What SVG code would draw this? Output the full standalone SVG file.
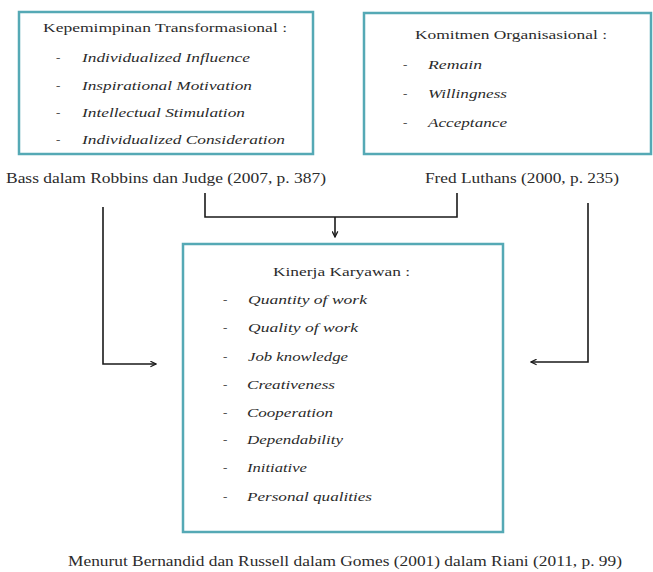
<svg xmlns="http://www.w3.org/2000/svg" width="653" height="572" viewBox="0 0 653 572">
<style>
  .box { fill: #ffffff; stroke: #55a9b5; stroke-width: 2.5; }
  text { font-family: "Liberation Serif", "DejaVu Serif", "Times New Roman", serif; fill: #2b2b2b; }
  .title { font-size: 13px; }
  .item { font-size: 13px; font-style: italic; }
  .dash { font-size: 13px; fill: #555; }
  .cap { font-size: 14px; }
  .conn { fill: none; stroke: #1a1a1a; stroke-width: 1.6; }
</style>
<defs>
  <marker id="arr" viewBox="0 0 10 10" refX="9" refY="5" markerWidth="7" markerHeight="7" orient="auto" markerUnits="userSpaceOnUse">
    <path d="M1,1 L9,5 L1,9" fill="none" stroke="#1a1a1a" stroke-width="1.8"/>
  </marker>
</defs>
<rect width="653" height="572" fill="#ffffff"/>

<g id="node-transformasional" font-family="Liberation Serif, DejaVu Serif, serif">
  <rect class="box" x="19" y="12" width="294" height="142"/>
  <text class="title" x="43" y="32" textLength="244" lengthAdjust="spacingAndGlyphs">Kepemimpinan Transformasional :</text>
  <text class="dash" x="56" y="62">-</text>
  <text class="item" x="82" y="62" textLength="168" lengthAdjust="spacingAndGlyphs">Individualized Influence</text>
  <text class="dash" x="56" y="90">-</text>
  <text class="item" x="82" y="90" textLength="170" lengthAdjust="spacingAndGlyphs">Inspirational Motivation</text>
  <text class="dash" x="56" y="117">-</text>
  <text class="item" x="82" y="117" textLength="163" lengthAdjust="spacingAndGlyphs">Intellectual Stimulation</text>
  <text class="dash" x="56" y="144">-</text>
  <text class="item" x="82" y="144" textLength="203" lengthAdjust="spacingAndGlyphs">Individualized Consideration</text>
</g>

<g id="node-komitmen" font-family="Liberation Serif, DejaVu Serif, serif">
  <rect class="box" x="364" y="13" width="287" height="141"/>
  <text class="title" x="415" y="39" textLength="192" lengthAdjust="spacingAndGlyphs">Komitmen Organisasional :</text>
  <text class="dash" x="403" y="69">-</text>
  <text class="item" x="428" y="69" textLength="54" lengthAdjust="spacingAndGlyphs">Remain</text>
  <text class="dash" x="403" y="98">-</text>
  <text class="item" x="428" y="98" textLength="79" lengthAdjust="spacingAndGlyphs">Willingness</text>
  <text class="dash" x="403" y="127">-</text>
  <text class="item" x="428" y="127" textLength="79" lengthAdjust="spacingAndGlyphs">Acceptance</text>
</g>

<g id="caption-bass">
  <text class="cap" x="6" y="183" textLength="320" lengthAdjust="spacingAndGlyphs">Bass dalam Robbins dan Judge (2007, p. 387)</text>
</g>
<g id="caption-luthans">
  <text class="cap" x="425" y="183" textLength="194" lengthAdjust="spacingAndGlyphs">Fred Luthans (2000, p. 235)</text>
</g>

<g id="node-kinerja">
  <rect class="box" x="183" y="244" width="320" height="288"/>
  <text class="title" x="273" y="276" textLength="137" lengthAdjust="spacingAndGlyphs">Kinerja Karyawan :</text>
  <text class="dash" x="223" y="304">-</text>
  <text class="item" x="248" y="304" textLength="119" lengthAdjust="spacingAndGlyphs">Quantity of work</text>
  <text class="dash" x="223" y="332">-</text>
  <text class="item" x="248" y="332" textLength="110" lengthAdjust="spacingAndGlyphs">Quality of work</text>
  <text class="dash" x="223" y="361">-</text>
  <text class="item" x="248" y="361" textLength="100" lengthAdjust="spacingAndGlyphs">Job knowledge</text>
  <text class="dash" x="223" y="389">-</text>
  <text class="item" x="247" y="389" textLength="88" lengthAdjust="spacingAndGlyphs">Creativeness</text>
  <text class="dash" x="223" y="417">-</text>
  <text class="item" x="247" y="417" textLength="86" lengthAdjust="spacingAndGlyphs">Cooperation</text>
  <text class="dash" x="223" y="444">-</text>
  <text class="item" x="247" y="444" textLength="96" lengthAdjust="spacingAndGlyphs">Dependability</text>
  <text class="dash" x="223" y="472">-</text>
  <text class="item" x="247" y="472" textLength="60" lengthAdjust="spacingAndGlyphs">Initiative</text>
  <text class="dash" x="223" y="501">-</text>
  <text class="item" x="247" y="501" textLength="125" lengthAdjust="spacingAndGlyphs">Personal qualities</text>
</g>

<g id="caption-bernandid">
  <text class="cap" x="68" y="566" textLength="554" lengthAdjust="spacingAndGlyphs">Menurut Bernandid dan Russell dalam Gomes (2001) dalam Riani (2011, p. 99)</text>
</g>

<g id="connectors">
  <polyline class="conn" points="205,193 205,217 457,217 457,193"/>
  <line class="conn" x1="335" y1="217" x2="335" y2="237" marker-end="url(#arr)"/>
  <polyline class="conn" points="103,207 103,364 156,364" marker-end="url(#arr)"/>
  <polyline class="conn" points="588,203 588,362 531,362" marker-end="url(#arr)"/>
</g>
</svg>
